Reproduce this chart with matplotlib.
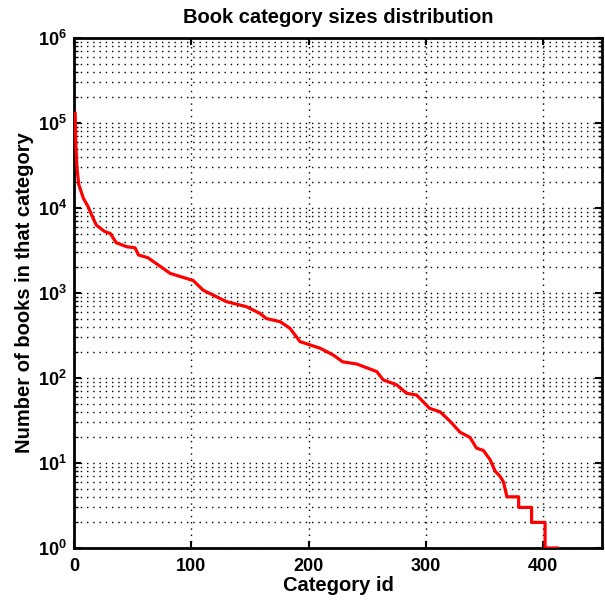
import numpy as np
import matplotlib.pyplot as plt
from matplotlib.ticker import FixedLocator, FixedFormatter, LogLocator, NullFormatter

plt.rcParams['font.family'] = 'Liberation Sans'
plt.rcParams['font.weight'] = 'bold'
plt.rcParams['mathtext.fontset'] = 'custom'
plt.rcParams['mathtext.bf'] = 'Liberation Sans:bold'
plt.rcParams['mathtext.rm'] = 'Liberation Sans:bold'

# category id vs number of books (sorted descending)
cat_id = [1, 1.5, 2.5, 4, 8, 12, 15, 19, 26, 31, 36, 45, 52, 55, 63, 82, 101.7,
          110, 130, 147, 158.5, 164, 175.6, 184, 192.6, 209.7, 221, 229, 241,
          258, 263.6, 275, 283.5, 292, 303, 312, 320.5, 329, 337.5, 343, 349,
          354.5, 359, 363, 366, 369, 379, 379, 390, 390, 401.5, 401.5, 412]
n_books = [1.3e5, 6e4, 3e4, 1.9e4, 1.3e4, 1.04e4, 8.3e3, 6.3e3, 5.3e3, 5e3,
           3.9e3, 3.5e3, 3.4e3, 2.8e3, 2.6e3, 1.7e3, 1.4e3, 1.08e3, 790, 690,
           575, 500, 460, 385, 268, 224, 186, 155, 146, 119, 95, 83, 66, 63,
           44, 40, 31, 23, 20, 15, 14, 11, 8, 7, 6, 4, 4, 3, 3, 2, 2, 1, 1]

x_ticks = [0, 100, 200, 300, 400]
y_ticks = [1, 10, 100, 1e3, 1e4, 1e5, 1e6]
y_labels = [r'$\mathbf{10^{%d}}$' % k for k in range(7)]

fig = plt.figure(figsize=(6.05, 6.0), dpi=100)
ax = fig.add_axes([0.1223, 0.0867, 0.8727, 0.85])

ax.plot(cat_id, n_books, color='red', linewidth=2.3, zorder=3)

ax.set_yscale('log')
ax.set_xlim(0, 450)
ax.set_ylim(1, 1e6)
ax.xaxis.set_major_locator(FixedLocator(x_ticks))
ax.yaxis.set_major_locator(FixedLocator(y_ticks))
ax.yaxis.set_major_formatter(FixedFormatter(y_labels))
ax.yaxis.set_minor_locator(LogLocator(base=10, subs=np.arange(2, 10), numticks=20))
ax.yaxis.set_minor_formatter(NullFormatter())

dots = (0, (1, 3.5))
ax.grid(True, which='major', axis='x', color='black', linestyle=dots, linewidth=1.0)
ax.grid(True, which='both', axis='y', color='black', linestyle=dots, linewidth=1.0)

ax.tick_params(which='both', direction='in', top=True, right=True, labelsize=13)
ax.tick_params(axis='x', which='major', pad=7)
ax.tick_params(axis='y', which='major', pad=5)
ax.tick_params(which='major', length=5, width=1.5)
ax.tick_params(which='minor', length=3, width=1)
for s in ax.spines.values():
    s.set_linewidth(2)

ax.set_title('Book category sizes distribution', fontsize=14.5, fontweight='bold', pad=11)
ax.set_xlabel('Category id', fontsize=14.5, fontweight='bold', labelpad=1)
ax.set_ylabel('Number of books in that category', fontsize=14.5, fontweight='bold', labelpad=3)

fig.savefig('out.png', dpi=100)
